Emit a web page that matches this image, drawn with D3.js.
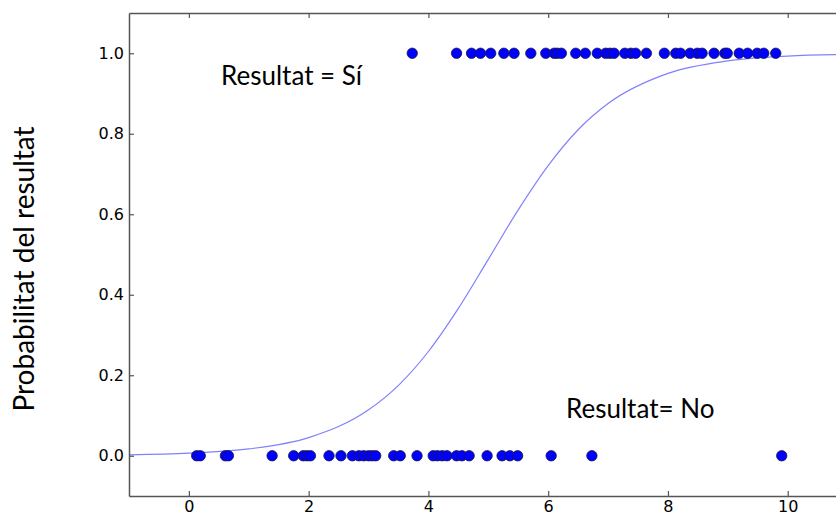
<!DOCTYPE html>
<html>
<head>
<meta charset="utf-8">
<script src="https://cdn.jsdelivr.net/npm/d3@7"></script>
<style>
  html, body { margin: 0; padding: 0; background: #fff; }
  svg { display: block; }
</style>
</head>
<body>
<svg id="chart" width="836" height="513"></svg>
<script>
// ---- data ----
const xYes = [3.73, 4.47, 4.72, 4.87, 5.04, 5.26, 5.43, 5.71, 5.96, 6.10, 6.15, 6.22,
  6.46, 6.62, 6.82, 6.96, 7.03, 7.10, 7.28, 7.38, 7.46, 7.64, 7.94, 8.13, 8.21, 8.37,
  8.49, 8.57, 8.77, 8.95, 8.99, 9.19, 9.33, 9.49, 9.60, 9.80];
const xNo = [0.13, 0.19, 0.61, 0.66, 1.39, 1.75, 1.91, 1.97, 2.03, 2.34, 2.54, 2.73,
  2.84, 2.92, 3.00, 3.06, 3.12, 3.42, 3.53, 3.81, 4.08, 4.15, 4.23, 4.31, 4.47, 4.56,
  4.68, 4.98, 5.23, 5.36, 5.49, 6.05, 6.73, 9.90];
const curveX = [-1, 0, 1, 2, 3, 3.5, 4, 4.5, 5, 5.5, 6, 6.5, 7, 8, 9, 10, 11];
const curveP = [0.0024, 0.0064, 0.017, 0.045, 0.114, 0.175, 0.259, 0.366, 0.488, 0.611,
  0.721, 0.810, 0.875, 0.950, 0.981, 0.993, 0.997];
const xTicks = [0, 2, 4, 6, 8, 10];
const yTicks = [0.0, 0.2, 0.4, 0.6, 0.8, 1.0];
const yLabel = "Probabilitat del resultat";
const noteYes = "Resultat = Sí";
const noteNo = "Resultat= No";

// ---- layout ----
const svg = d3.select("#chart");
const L = 129, R = 847.6, T = 13, B = 496;
const x = d3.scaleLinear().domain([-1, 11]).range([L, R]);
const y = d3.scaleLinear().domain([-0.1, 1.1]).range([B, T]);
const axisColor = "#555";

// curve
const line = d3.line().x(d => x(d[0])).y(d => y(d[1])).curve(d3.curveMonotoneX);
svg.append("path")
  .datum(curveX.map((v, i) => [v, curveP[i]]))
  .attr("d", line)
  .attr("fill", "none")
  .attr("stroke", "#8080ff")
  .attr("stroke-width", 1.2);

// dots
const dotG = svg.append("g");
dotG.selectAll("circle.yes").data(xYes).join("circle")
  .attr("class", "yes")
  .attr("cx", d => x(d)).attr("cy", y(1))
  .attr("r", 5.2).attr("fill", "#0000ff")
  .attr("stroke", "#1a1a40").attr("stroke-width", 0.8);
dotG.selectAll("circle.no").data(xNo).join("circle")
  .attr("class", "no")
  .attr("cx", d => x(d)).attr("cy", y(0))
  .attr("r", 5.2).attr("fill", "#0000ff")
  .attr("stroke", "#1a1a40").attr("stroke-width", 0.8);

// axes
function styleAxis(g) {
  g.select(".domain").attr("stroke", axisColor).attr("stroke-width", 1.5);
  g.selectAll(".tick line").attr("stroke", axisColor).attr("stroke-width", 1.2);
  g.selectAll(".tick text").attr("fill", "#000")
    .style("font-family", "'DejaVu Sans', sans-serif").style("font-size", "16px");
}
const gx = svg.append("g").attr("transform", `translate(0,${B})`)
  .call(d3.axisBottom(x).tickValues(xTicks).tickFormat(d3.format("d"))
    .tickSizeInner(-5).tickSizeOuter(0).tickPadding(4));
styleAxis(gx);
gx.selectAll(".tick text").attr("dy", "0.74em");

const gt = svg.append("g").attr("transform", `translate(0,${T})`)
  .call(d3.axisTop(x).tickValues(xTicks).tickFormat("")
    .tickSizeInner(-5).tickSizeOuter(0));
styleAxis(gt);

const gy = svg.append("g").attr("transform", `translate(${L},0)`)
  .call(d3.axisLeft(y).tickValues(yTicks).tickFormat(d3.format(".1f"))
    .tickSizeInner(-5).tickSizeOuter(0).tickPadding(5));
styleAxis(gy);

const gr = svg.append("g").attr("transform", `translate(${R},0)`)
  .call(d3.axisRight(y).tickValues(yTicks).tickFormat("")
    .tickSizeInner(-5).tickSizeOuter(0));
styleAxis(gr);

// annotations
const noteFont = "Lato, 'Open Sans', sans-serif";
svg.append("text").attr("x", 221).attr("y", 85)
  .style("font-family", noteFont).style("font-size", "26px").attr("fill", "#000")
  .text(noteYes);
svg.append("text").attr("x", 566).attr("y", 418)
  .style("font-family", noteFont).style("font-size", "26px").attr("fill", "#000")
  .text(noteNo);

// y label
svg.append("text")
  .attr("transform", "translate(34,269) rotate(-90)")
  .attr("text-anchor", "middle")
  .style("font-family", noteFont).style("font-size", "28px").attr("fill", "#000")
  .text(yLabel);
</script>
</body>
</html>
